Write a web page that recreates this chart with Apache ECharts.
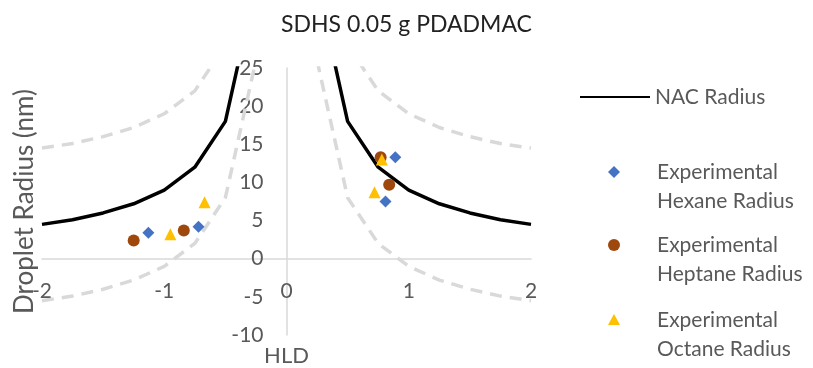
<!DOCTYPE html>
<html>
<head>
<meta charset="utf-8">
<script src="https://cdn.jsdelivr.net/npm/echarts@6/dist/echarts.min.js"></script>
<style>
  html, body { margin: 0; padding: 0; background: #fff; }
  #chart { width: 813px; height: 368px; }
</style>
</head>
<body>
<div id="chart"></div>
<script>
// HLD grid used for the model curves (null = break between branches)
var hldGrid = [-2, -1.75, -1.5, -1.25, -1, -0.75, -0.5, -0.25, null, 0.25, 0.5, 0.75, 1, 1.25, 1.5, 1.75, 2];
var nacRadius = [4.5, 5.1, 6, 7.2, 9, 12, 18, 36, null, 36, 18, 12, 9, 7.2, 6, 5.1, 4.5];
var upperBound = [14.5, 15.1, 16, 17.2, 19, 22, 28, 46, null, 46, 28, 22, 19, 17.2, 16, 15.1, 14.5];
var lowerBound = [-5.5, -4.9, -4, -2.8, -1, 2, 8, 26, null, 26, 8, 2, -1, -2.8, -4, -4.9, -5.5];

// experimental points
var hexaneHld = [-1.13, -0.72, 0.89, 0.81];
var hexaneRadius = [3.4, 4.2, 13.3, 7.5];
var heptaneHld = [-1.25, -0.84, 0.77, 0.84];
var heptaneRadius = [2.4, 3.7, 13.3, 9.7];
var octaneHld = [-0.95, -0.67, 0.78, 0.72];
var octaneRadius = [3.2, 7.4, 13.0, 8.7];

function pairs(xs, ys) {
  return xs.map(function (x, i) {
    if (x === null || ys[i] === null) return ['-', '-'];
    return [x, ys[i]];
  });
}

var font = 'Lato';
var grey = '#595959';

// legend icons: marker on top, empty room below so it lines up with the first text line
var iconDiamond = 'path://M6,0L12,6L6,12L0,6Z M6,41';
var iconCircle = 'path://M0,6A6,6 0 1,1 12,6A6,6 0 1,1 0,6Z M6,41';
var iconTriangle = 'path://M6,0L12,11L0,11Z M6,41';

var chart = echarts.init(document.getElementById('chart'));

var legendText = { color: grey, fontSize: 21, fontFamily: font, lineHeight: 29 };
function scatterLegend(name, icon, top) {
  return {
    data: [{ name: name, icon: icon }], orient: 'vertical', left: 608, top: top, padding: 0,
    itemWidth: 12, itemHeight: 41, selectedMode: false,
    formatter: function (n) { return n.replace('Experimental ', 'Experimental\n'); },
    textStyle: Object.assign({}, legendText, { padding: [0, 0, 0, 32] })
  };
}

var option = {
  animation: false,
  title: {
    text: 'SDHS 0.05 g PDADMAC',
    left: 'center', top: 8,
    textStyle: { color: '#222', fontSize: 23, fontWeight: 'normal', fontFamily: font }
  },
  legend: [
    {
      data: ['NAC Radius'], left: 579, top: 82.5, padding: 0,
      itemWidth: 70, itemHeight: 14, selectedMode: false,
      itemStyle: { opacity: 0 },
      textStyle: legendText
    },
    scatterLegend('Experimental Hexane Radius', iconDiamond, 157.5),
    scatterLegend('Experimental Heptane Radius', iconCircle, 230.5),
    scatterLegend('Experimental Octane Radius', iconTriangle, 305.5)
  ],
  grid: { left: 42, right: 282, top: 68, bottom: 33, outerBoundsMode: 'none', containLabel: false },
  xAxis: {
    type: 'value', min: -2, max: 2, interval: 1,
    position: 'bottom', offset: -76,
    name: 'HLD', nameLocation: 'middle', nameGap: 86,
    nameTextStyle: { color: grey, fontSize: 22, fontFamily: font },
    axisLine: { onZero: false, lineStyle: { color: '#d9d9d9', width: 1.5 } },
    axisTick: { show: false },
    axisLabel: { color: grey, fontSize: 21, fontFamily: font, margin: 22 },
    splitLine: { show: false }
  },
  yAxis: {
    type: 'value', min: -10, max: 25, interval: 5,
    position: 'left', offset: -244.5,
    name: 'Droplet Radius (nm)', nameLocation: 'middle', nameGap: 249,
    nameTextStyle: { color: grey, fontSize: 26, fontFamily: font },
    axisLine: { show: true, onZero: false, lineStyle: { color: '#d9d9d9', width: 1.5 } },
    axisTick: { show: false },
    axisLabel: { color: grey, fontSize: 21, fontFamily: font, margin: 23 },
    splitLine: { show: false }
  },
  series: [
    {
      name: 'Upper', type: 'line', data: pairs(hldGrid, upperBound),
      showSymbol: false, symbol: 'none', connectNulls: false,
      lineStyle: { color: '#d9d9d9', width: 3.5, type: [12, 8] }, z: 1
    },
    {
      name: 'Lower', type: 'line', data: pairs(hldGrid, lowerBound),
      showSymbol: false, symbol: 'none', connectNulls: false,
      lineStyle: { color: '#d9d9d9', width: 3.5, type: [12, 8] }, z: 1
    },
    {
      name: 'NAC Radius', type: 'line', data: pairs(hldGrid, nacRadius),
      showSymbol: false, symbol: 'none', connectNulls: false,
      itemStyle: { color: '#000' },
      lineStyle: { color: '#000', width: 3.5 }, z: 2
    },
    {
      name: 'Experimental Hexane Radius', type: 'scatter', data: pairs(hexaneHld, hexaneRadius),
      symbol: 'diamond', symbolSize: 12, itemStyle: { color: '#4472C4', opacity: 1 }, z: 3
    },
    {
      name: 'Experimental Heptane Radius', type: 'scatter', data: pairs(heptaneHld, heptaneRadius),
      symbol: 'circle', symbolSize: 12, itemStyle: { color: '#9E480E', opacity: 1 }, z: 3
    },
    {
      name: 'Experimental Octane Radius', type: 'scatter', data: pairs(octaneHld, octaneRadius),
      symbol: 'triangle', symbolSize: 12, itemStyle: { color: '#FFC000', opacity: 1 }, z: 3
    }
  ]
};

chart.setOption(option);
</script>
</body>
</html>
